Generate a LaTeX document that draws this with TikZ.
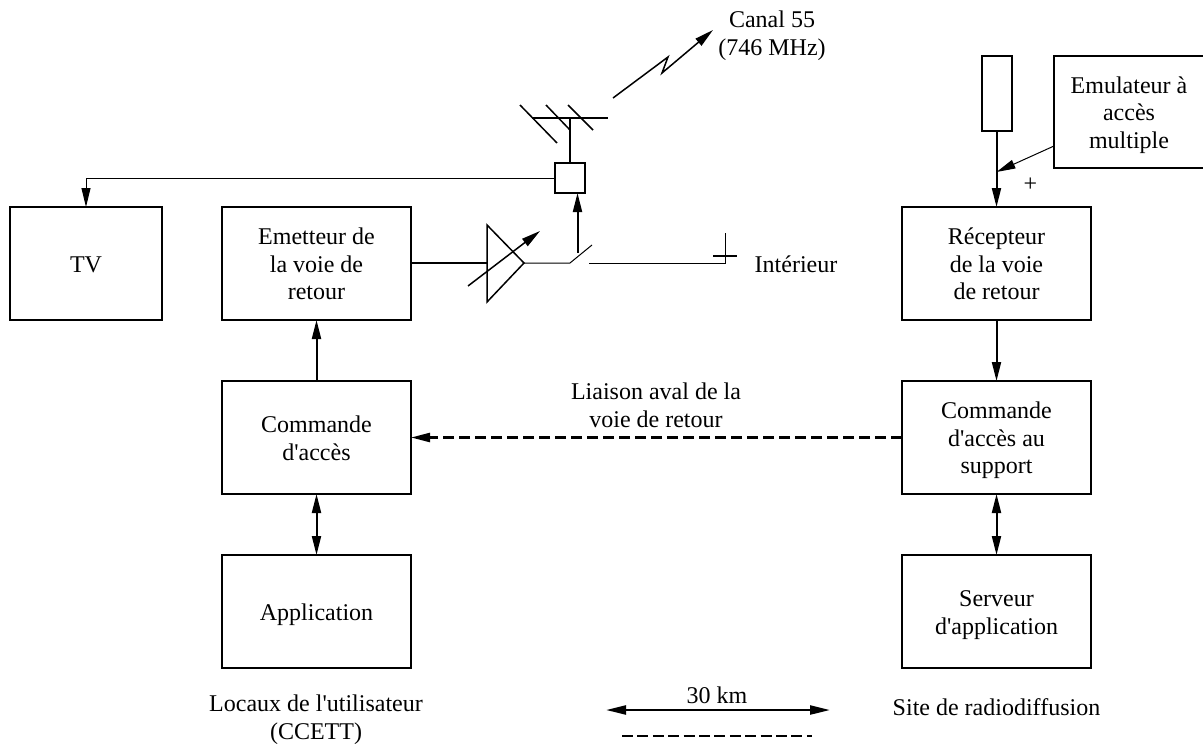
\documentclass[tikz,border=0pt]{standalone}
\usepackage{fontspec}
\setmainfont{Liberation Serif}
\newfontfamily\plainserif{Liberation Serif}
\usetikzlibrary{arrows.meta}
\tikzset{
 x=1pt,y=-1pt,
 blockbox/.style={draw,line width=1.6pt,inner sep=0pt,outer sep=0pt,font=\plainserif\fontsize{24}{27.5}\selectfont},
 lbl/.style={inner sep=0pt,font=\plainserif\fontsize{24}{27.5}\selectfont},
 thin line/.style={line width=1pt},
 mid line/.style={line width=1.5pt},
 conn line/.style={line width=2pt},
 heavy line/.style={line width=2.4pt},
 tip/.style={-{Triangle[length=19pt,width=9pt]}},
 tiptwo/.style={{Triangle[length=19pt,width=9pt]}-{Triangle[length=19pt,width=9pt]}},
}
\newcommand{\stk}[1]{\begin{tabular}{@{}c@{}}#1\end{tabular}}
\newcommand{\lowstk}[1]{\raisebox{0pt}[\dimexpr\height+6.5pt\relax][\depth]{\stk{#1}}}
\newcommand{\bx}[6]{\node[blockbox,minimum width=#4 pt-#2 pt,minimum height=#5 pt-#3 pt,anchor=north west] (#1) at (#2,#3) {#6};}
\begin{document}
\begin{tikzpicture}
\useasboundingbox (0,0) rectangle (1203,744);
\bx{tv}{10}{207}{162}{320}{\lowstk{TV}}
\bx{em}{222}{207}{411}{320}{\lowstk{Emetteur de\\la voie de\\retour}}
\bx{ca}{222}{381}{411}{494}{\lowstk{Commande\\d'accès}}
\bx{app}{222}{555}{411}{668}{\lowstk{Application}}
\bx{re}{902}{207}{1091}{320}{\lowstk{Récepteur\\de la voie\\de retour}}
\bx{cs}{902}{381}{1091}{494}{\lowstk{Commande\\d'accès au\\support}}
\bx{se}{902}{555}{1091}{668}{\lowstk{Serveur\\d'application}}
\bx{emu}{1054}{56}{1204}{168}{\lowstk{Emulateur à\\accès\\multiple}}
\bx{ant}{982}{56}{1012}{131}{}
\bx{sw}{555}{163}{585}{193}{}
% main column links
\draw[conn line,tip] (ca.north) -- (em.south);
\draw[conn line,tiptwo] (ca.south) -- (app.north);
\draw[conn line,tip] (re.south) -- (cs.north);
\draw[conn line,tiptwo] (cs.south) -- (se.north);
\draw[heavy line,dash pattern=on 11pt off 5pt,tip] (cs.west) -- (ca.east);
% right antenna
\coordinate (join) at (996.5,172);
\draw[conn line,tip] (re.north |- ant.south) -- (re.north);
\draw[thin line,tip] (emu.west |- 0,146) -- (join);
\node[lbl] (plus) at (1030.5,186) {\stk{+}};
% TV feed
\coordinate (tvc) at (86,178);
\draw[thin line] (sw.west |- tvc) -- (tvc);
\draw[thin line,tip] (tvc) -- (tv.north);
% antenna
\coordinate (mast) at (570,118);
\draw[heavy line] (532,118) -- (608,118);
\draw[heavy line] (mast) -- (sw.north);
\draw[mid line] (520,105) -- (557,143);
\draw[mid line] (546,105) -- (570,130);
\draw[mid line] (568,105) -- (593,130);
% radio link
\draw[mid line,line join=miter,-{Triangle[length=19pt,width=9pt]}] (613,98) -- (668,57) -- (662,73) -- (713,30);
% amplifier
\coordinate (ampin) at (487,263);
\coordinate (ampout) at (524,263);
\draw[mid line,line join=miter] (487,225) -- (ampout) -- (487,302) -- cycle;
\draw[conn line] (em.east |- ampin) -- (ampin);
\draw[mid line,tip] (468,286) -- (540,231);
% switch
\coordinate (swa) at (570,263);
\draw[thin line] (ampout) -- (swa) -- (592,245);
\coordinate (gnd) at (725,263);
\draw[thin line] (589,263) -- (gnd) -- (725,233);
\draw[mid line] (713,256) -- (737,256);
\coordinate (swt) at (577.5,253);
\draw[conn line,tip] (swt) -- (swt |- sw.south);
% labels
\node[lbl] (canal) at (772,36) {\stk{Canal 55\\(746 MHz)}};
\node[lbl] (int) at (796,266.5) {\stk{Intérieur}};
\node[lbl] (liaison) at (656,408) {\stk{Liaison aval de la\\voie de retour}};
\node[lbl] (loc) at (316,720) {\stk{Locaux de l'utilisateur\\(CCETT)}};
\node[lbl] (site) at (996.5,709.5) {\stk{Site de radiodiffusion}};
\node[lbl] (km) at (717,697.5) {\stk{30 km}};
\coordinate (kl) at (606,710);
\coordinate (kr) at (830,710);
\draw[heavy line,{Triangle[length=20pt,width=9pt]}-{Triangle[length=20pt,width=9pt]}] (kl) -- (kr);
\coordinate (dl) at (622,736);
\coordinate (dr) at (812,736);
\draw[heavy line,dash pattern=on 11pt off 4.4pt] (dl) -- (dr);
\end{tikzpicture}
\end{document}
